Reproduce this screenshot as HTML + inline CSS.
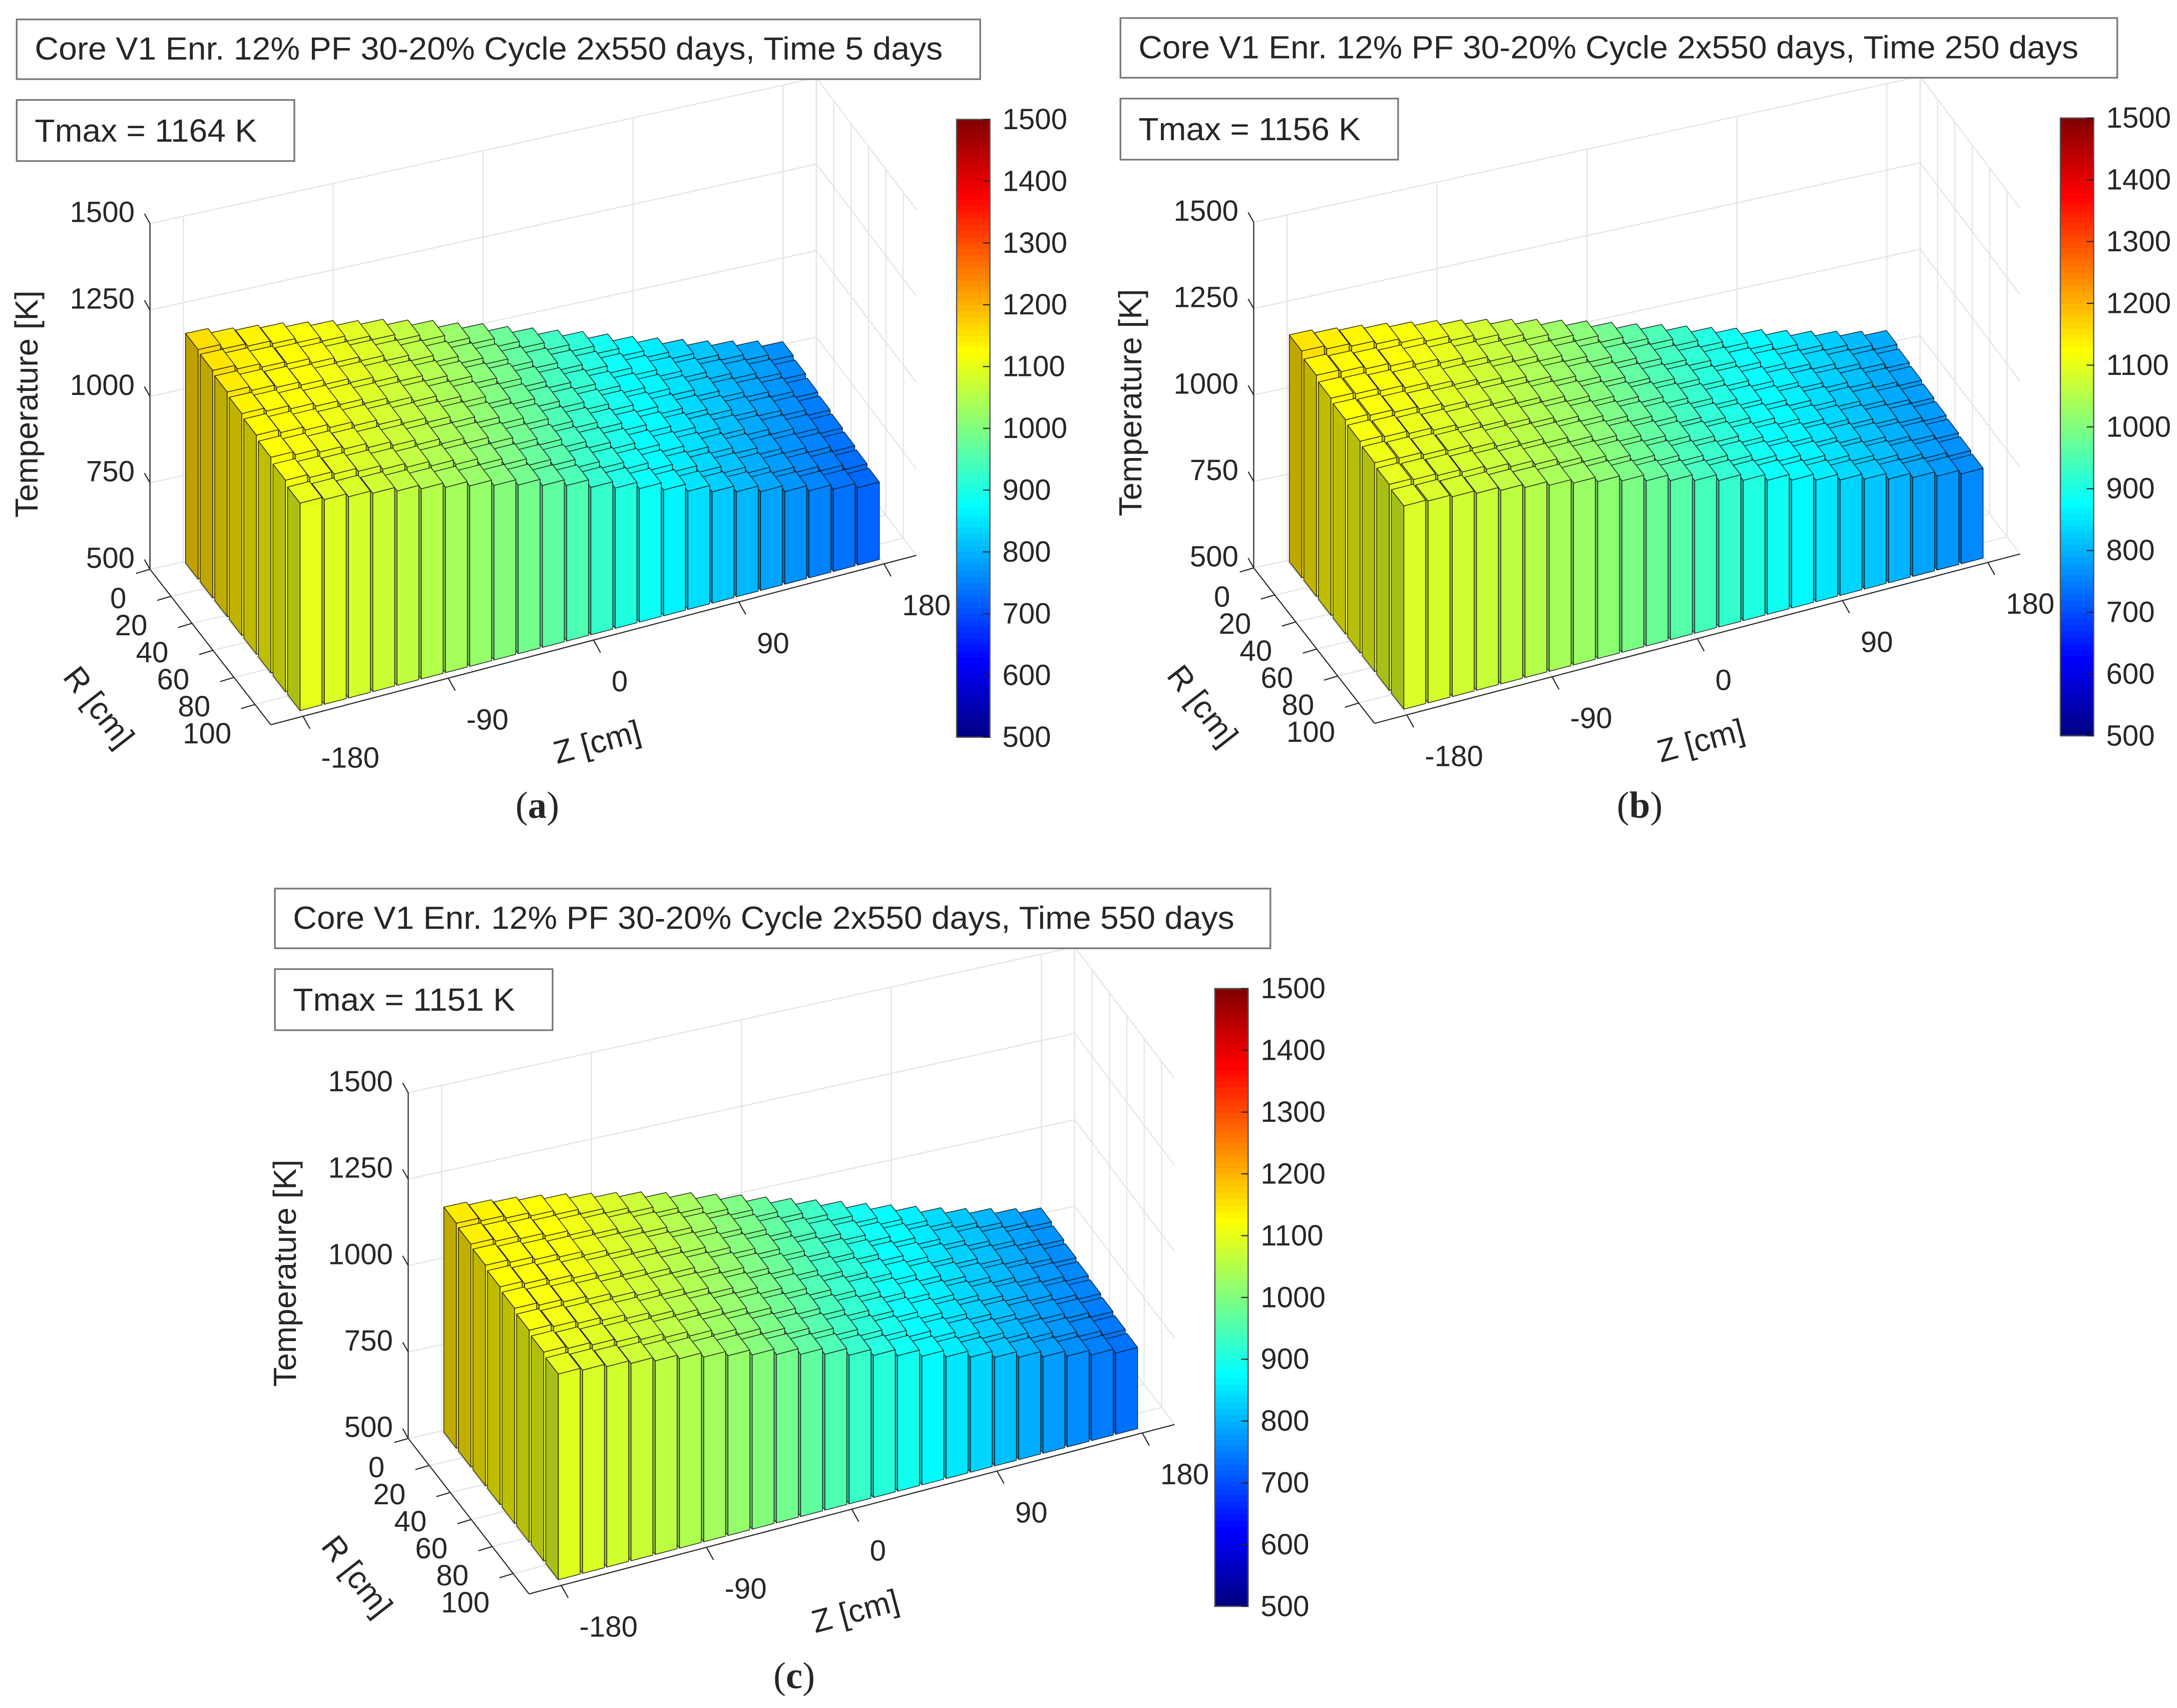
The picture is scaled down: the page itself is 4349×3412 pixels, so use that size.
<!DOCTYPE html>
<html><head><meta charset="utf-8"><style>
html,body{margin:0;padding:0;background:#fff;}
svg{display:block;}
text{font-family:"Liberation Sans",Arial,sans-serif;fill:#262626;}
</style></head><body>
<svg id="root" xmlns="http://www.w3.org/2000/svg" width="4349" height="3412" viewBox="0 0 1568 1230.2">
<rect x="0" y="0" width="1568" height="1231" fill="#fff"/>
</svg>
<script>
const zBins = [-172.5,-157.5,-142.5,-127.5,-112.5,-97.5,-82.5,-67.5,-52.5,-37.5,-22.5,-7.5,7.5,22.5,37.5,52.5,67.5,82.5,97.5,112.5,127.5,142.5,157.5,172.5];
const rBins = [7,21,35,49,63,77,91,105];
const tTicks = [500,750,1000,1250,1500];
const zTicks = [-180,-90,0,90,180];
const rTicks = [0,20,40,60,80,100];
const cbTicks = [500,600,700,800,900,1000,1100,1200,1300,1400,1500];
const tempsA = [
[1164,1150,1142,1133,1120,1108,1092,1080,1062,1045,1022,1004,980,960,938,918,895,872,852,832,812,796,780,762],
[1158,1146,1135,1128,1114,1100,1088,1072,1055,1036,1015,996,972,952,930,910,888,866,846,826,806,790,774,756],
[1150,1138,1130,1120,1106,1094,1080,1065,1048,1030,1008,990,965,945,924,902,880,860,840,820,800,784,768,750],
[1142,1132,1122,1112,1100,1086,1072,1058,1040,1022,1000,982,958,938,916,896,874,852,832,814,794,778,762,745],
[1134,1124,1114,1104,1092,1078,1064,1050,1032,1014,994,975,950,930,910,888,866,846,826,806,788,772,756,740],
[1124,1114,1104,1095,1082,1070,1055,1040,1024,1006,985,966,942,922,902,880,858,838,818,800,780,765,750,735],
[1112,1102,1094,1084,1072,1060,1046,1032,1014,996,976,958,934,914,894,872,850,830,810,792,774,758,744,730],
[1100,1092,1082,1074,1062,1050,1036,1022,1005,988,968,950,926,906,886,864,842,822,804,786,768,752,738,724]];
const tempsB = [
[1156,1146,1138,1128,1116,1104,1090,1076,1060,1044,1026,1008,988,968,950,930,910,892,872,854,836,820,804,790],
[1140,1134,1126,1118,1106,1094,1080,1066,1050,1034,1016,998,978,960,940,922,902,884,864,846,830,814,798,784],
[1128,1124,1116,1108,1096,1084,1072,1058,1042,1026,1008,990,970,952,934,914,896,878,858,840,824,808,792,780],
[1120,1116,1108,1100,1090,1078,1064,1050,1036,1020,1002,984,966,946,928,908,890,872,854,836,818,802,788,776],
[1112,1108,1100,1092,1082,1070,1058,1044,1030,1014,996,978,960,940,922,904,886,866,848,830,814,798,784,772],
[1104,1100,1092,1086,1076,1064,1052,1038,1024,1008,990,972,954,936,918,898,880,862,844,826,810,794,780,768],
[1096,1092,1086,1078,1068,1058,1046,1032,1018,1002,984,966,948,930,912,894,876,858,840,822,806,790,776,764],
[1088,1084,1078,1070,1060,1050,1038,1026,1012,996,978,960,942,924,906,888,870,852,834,818,800,786,772,760]];
const tempsC = [
[1151,1142,1134,1124,1112,1098,1084,1070,1052,1036,1016,998,976,956,936,916,894,874,854,834,816,800,784,770],
[1145,1137,1128,1119,1106,1093,1079,1064,1047,1030,1010,992,970,950,930,910,889,869,849,829,811,795,779,765],
[1138,1130,1121,1112,1100,1087,1073,1058,1041,1024,1004,986,964,944,924,904,883,863,843,824,806,790,774,760],
[1130,1122,1114,1105,1093,1080,1066,1051,1034,1017,998,980,958,938,918,898,877,857,838,819,801,785,769,755],
[1122,1114,1106,1097,1085,1073,1059,1044,1027,1010,991,973,952,932,912,892,871,851,832,813,796,780,764,750],
[1113,1106,1098,1089,1077,1065,1051,1036,1020,1003,984,966,945,925,905,885,865,845,826,808,790,775,759,745],
[1104,1097,1089,1080,1069,1057,1043,1028,1012,995,977,959,938,918,899,879,858,839,820,802,785,769,754,740],
[1095,1088,1080,1071,1060,1048,1034,1020,1004,987,969,951,930,911,892,872,852,833,814,796,779,763,748,735]];
const panelTitles = ["Core V1 Enr. 12% PF 30-20% Cycle 2x550 days, Time 5 days","Core V1 Enr. 12% PF 30-20% Cycle 2x550 days, Time 250 days","Core V1 Enr. 12% PF 30-20% Cycle 2x550 days, Time 550 days"];
const tmaxLabels = ["Tmax = 1164 K","Tmax = 1156 K","Tmax = 1151 K"];
const panelLetters = ["a","b","c"];

const NS = "http://www.w3.org/2000/svg";
const root = document.getElementById('root');
function mk(tag, attrs, parent){const e=document.createElementNS(NS,tag);for(const k in attrs)e.setAttribute(k,attrs[k]);parent.appendChild(e);return e;}
function jet(v){const t=Math.max(0,Math.min(1,(v-500)/1000));const c=x=>Math.round(255*Math.max(0,Math.min(1,1.5-Math.abs(x))));return [c(4*t-3),c(4*t-2),c(4*t-1)];}
function rgb(c,f){return 'rgb('+c.map(x=>Math.min(255,Math.round(x*f))).join(',')+')';}

const ZMIN=-200,ZMAX=200,RMAX=115,H=249;
const BL=[108,410],BR=[588,305],FL=[195,522],FR=[660,400];
function proj(ox,oy,z,r,t){const u=(z-ZMIN)/(ZMAX-ZMIN),v=r/RMAX;
 const x=(1-u)*(1-v)*BL[0]+u*(1-v)*BR[0]+(1-u)*v*FL[0]+u*v*FR[0];
 const y=(1-u)*(1-v)*BL[1]+u*(1-v)*BR[1]+(1-u)*v*FL[1]+u*v*FR[1];
 return [ox+x, oy+y-(t-500)*H/1000];}
function pts(a){return a.map(p=>p[0].toFixed(2)+','+p[1].toFixed(2)).join(' ');}

const panels=[{ox:0,oy:0,data:tempsA,tw:694,tl:654,lx:387,ly:580},{ox:795,oy:-1,data:tempsB,tw:718,tl:677,lx:1181,ly:580},{ox:186,oy:626,data:tempsC,tw:717,tl:678,lx:572,ly:1207}];

panels.forEach((p,pi)=>{
 const g=mk('g',{},root);
 
 
 const P=(z,r,t)=>proj(p.ox,p.oy,z,r,t);
 const grid=mk('g',{stroke:'#e3e3e3','stroke-width':0.8,fill:'none'},g);
 
 
 tTicks.forEach(t=>{
  mk('polyline',{points:pts([P(ZMIN,0,t),P(ZMAX,0,t),P(ZMAX,RMAX,t)])},grid);
 });
 zTicks.forEach(z=>{mk('polyline',{points:pts([P(z,RMAX,500),P(z,0,500),P(z,0,1500)])},grid);});
 rTicks.forEach(r=>{mk('polyline',{points:pts([P(ZMIN,r,500),P(ZMAX,r,500),P(ZMAX,r,1500)])},grid);});
 mk('line',{x1:P(ZMAX,0,500)[0],y1:P(ZMAX,0,500)[1],x2:P(ZMAX,0,1500)[0],y2:P(ZMAX,0,1500)[1]},grid);
 const bars=mk('g',{stroke:'#1a1a1a','stroke-width':0.5,'stroke-linejoin':'round'},g);
 
 
 const hz=15*0.45, hr=14*0.43;
 for(let ri=0;ri<rBins.length;ri++){
  for(let zi=zBins.length-1;zi>=0;zi--){
   const t=p.data[ri][zi], c=jet(t);
   const z0=zBins[zi]-hz,z1=zBins[zi]+hz,r0=rBins[ri]-hr,r1=rBins[ri]+hr;
   const b=mk('g',{},bars);
   
   
   mk('polygon',{points:pts([P(z0,r0,500),P(z0,r1,500),P(z0,r1,t),P(z0,r0,t)]),fill:rgb(c,0.75)},b);
   mk('polygon',{points:pts([P(z0,r1,500),P(z1,r1,500),P(z1,r1,t),P(z0,r1,t)]),fill:rgb(c,1.0)},b);
   mk('polygon',{points:pts([P(z0,r0,t),P(z1,r0,t),P(z1,r1,t),P(z0,r1,t)]),fill:rgb(c,1.03)},b);
  }
 }
 const ax=mk('g',{stroke:'#262626','stroke-width':0.8,fill:'none'},g);
 
 
 const a0=P(ZMIN,0,500),a1=P(ZMIN,0,1500),f0=P(ZMIN,RMAX,500),f1=P(ZMAX,RMAX,500);
 mk('line',{x1:a0[0],y1:a0[1],x2:a1[0],y2:a1[1]},ax);
 mk('line',{x1:a0[0],y1:a0[1],x2:f0[0],y2:f0[1]},ax);
 mk('line',{x1:f0[0],y1:f0[1],x2:f1[0],y2:f1[1]},ax);
 tTicks.forEach(t=>{const q=P(ZMIN,0,t);
  mk('line',{x1:q[0],y1:q[1],x2:q[0]-4,y2:q[1]-7},ax);
  const tx=mk('text',{x:q[0]-11,y:q[1]-1,'font-size':21,'text-anchor':'end'},g);tx.textContent=t;
  
  });
 rTicks.forEach(r=>{const q=P(ZMIN,r,500);
  mk('line',{x1:q[0],y1:q[1],x2:q[0]-10,y2:q[1]+3},ax);
  const tx=mk('text',{x:q[0]-17,y:q[1]+28,'font-size':21,'text-anchor':'end'},g);tx.textContent=r;
  
  });
 zTicks.forEach(z=>{const q=P(z,RMAX,500);
  mk('line',{x1:q[0],y1:q[1],x2:q[0]+5,y2:q[1]+9},ax);
  const tx=mk('text',{x:q[0]+13,y:q[1]+37,'font-size':21},g);tx.textContent=z;
  
  });
 let tt=mk('text',{x:0,y:0,'font-size':23,'text-anchor':'middle',transform:'translate('+(p.ox+27)+','+(p.oy+291)+') rotate(-90)'},g);tt.textContent='Temperature [K]';
 
 
 tt=mk('text',{x:0,y:0,'font-size':23,'text-anchor':'middle',transform:'translate('+(p.ox+65)+','+(p.oy+514)+') rotate(52)'},g);tt.textContent='R [cm]';
 
 
 tt=mk('text',{x:0,y:0,'font-size':23,'text-anchor':'middle',transform:'translate('+(p.ox+432)+','+(p.oy+542)+') rotate(-15)'},g);tt.textContent='Z [cm]';
 
 
 const tb=mk('g',{},g);
 
 
 mk('rect',{x:p.ox+12,y:p.oy+14,width:p.tw,height:43,fill:'#fff',stroke:'#777','stroke-width':1.2},tb);
 const ttx=mk('text',{x:p.ox+25,y:p.oy+43,'font-size':23,textLength:p.tl,lengthAdjust:'spacingAndGlyphs'},tb);ttx.textContent=panelTitles[pi];
 const mb=mk('g',{},g);
 
 
 mk('rect',{x:p.ox+12,y:p.oy+72,width:200,height:44,fill:'#fff',stroke:'#777','stroke-width':1.2},mb);
 const mtx=mk('text',{x:p.ox+25,y:p.oy+102,'font-size':23,textLength:160,lengthAdjust:'spacingAndGlyphs'},mb);mtx.textContent=tmaxLabels[pi];
 const cb=mk('g',{},g);
 
 
 const cx=p.ox+689,cy0=p.oy+86,ch=445,cw=24,n=100;
 for(let i=0;i<n;i++){const v=500+1000*(i+0.5)/n;const y1=cy0+ch-(i+1)*ch/n;
  mk('rect',{x:cx,y:y1-0.3,width:cw,height:ch/n+0.6,fill:rgb(jet(v),1)},cb);}
 mk('rect',{x:cx,y:cy0,width:cw,height:ch,fill:'none',stroke:'#555','stroke-width':0.9},cb);
 cbTicks.forEach(v=>{const y=cy0+ch-(v-500)/1000*ch;
  mk('line',{x1:cx+cw-5,y1:y,x2:cx+cw,y2:y,stroke:'#262626','stroke-width':0.8},cb);
  const tx=mk('text',{x:cx+33,y:y+7,'font-size':21},cb);tx.textContent=v;
  
  });
 const lt=mk('text',{x:p.lx,y:p.ly+9,'font-size':27,'text-anchor':'middle',style:'font-family:"Liberation Serif",serif'},g);
 lt.innerHTML='(<tspan font-weight="bold">'+panelLetters[pi]+'</tspan>)';
 
 
});
</script>
</body></html>
